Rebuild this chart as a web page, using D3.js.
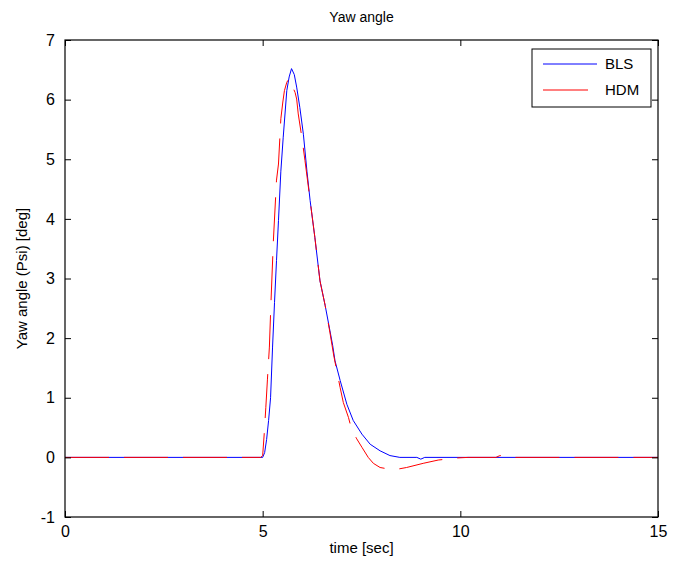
<!DOCTYPE html>
<html><head><meta charset="utf-8">
<script src="https://cdn.jsdelivr.net/npm/d3@7"></script>
<style>body{margin:0;background:#fff}svg{display:block}text{font-family:"Liberation Sans",Arial,sans-serif;fill:#000}</style>
</head><body>
<svg id="c" width="673" height="563"></svg>
<script>
const xTicks = [0, 5, 10, 15];
const yTicks = [-1, 0, 1, 2, 3, 4, 5, 6, 7];
const blsT = [0, 5.0, 5.05, 5.1, 5.15, 5.2, 5.25, 5.3, 5.35, 5.4, 5.46, 5.52, 5.61, 5.67, 5.73, 5.8, 5.86, 5.94, 6.03, 6.12, 6.2, 6.32, 6.45, 6.58, 6.7, 6.77, 6.83, 6.96, 7.13, 7.29, 7.51, 7.72, 7.97, 8.22, 8.47, 8.9, 9.0, 9.1, 15];
const blsV = [0, 0, 0.08, 0.3, 0.62, 1.0, 1.85, 2.6, 3.3, 3.97, 4.8, 5.37, 6.15, 6.38, 6.52, 6.42, 6.21, 5.87, 5.42, 4.8, 4.31, 3.69, 2.96, 2.55, 2.13, 1.88, 1.62, 1.29, 0.89, 0.62, 0.39, 0.22, 0.11, 0.03, 0, 0, -0.03, 0, 0];
const hdmT = [0, 4.95, 5.0, 5.04, 5.08, 5.12, 5.17, 5.21, 5.27, 5.35, 5.4, 5.46, 5.51, 5.55, 5.61, 5.67, 5.73, 5.82, 5.86, 5.9, 5.99, 6.07, 6.2, 6.32, 6.45, 6.58, 6.7, 6.8, 6.96, 7.04, 7.17, 7.25, 7.38, 7.51, 7.67, 7.8, 7.97, 8.31, 8.64, 9.06, 9.44, 9.91, 10.2, 10.9, 11.0, 11.25, 11.35, 15];
const hdmV = [0, 0, 0.03, 0.4, 0.84, 1.3, 1.85, 2.6, 3.62, 4.65, 4.92, 5.68, 5.96, 6.15, 6.29, 6.36, 6.26, 6.12, 6.01, 5.76, 5.37, 4.98, 4.31, 3.69, 2.96, 2.55, 2.1, 1.7, 1.17, 0.92, 0.67, 0.47, 0.31, 0.17, 0, -0.1, -0.17, -0.21, -0.17, -0.1, -0.045, -0.01, 0, 0, 0.03, 0.03, 0, 0];
const seriesNames = ["BLS", "HDM"];
const seriesColors = ["#0000ff", "#ff0000"];

const svg = d3.select("#c");
const L = 65, R = 658, T = 40, B = 517;
const x = d3.scaleLinear().domain([0, 15]).range([L, R]);
const y = d3.scaleLinear().domain([-1, 7]).range([B, T]);

const line = d3.line().x(d => x(d[0])).y(d => y(d[1]));
const bls = blsT.map((t, i) => [t, blsV[i]]);
const hdm = hdmT.map((t, i) => [t, hdmV[i]]);
const g = svg.append("g");
g.append("path").attr("d", line(bls)).attr("fill", "none").attr("stroke", seriesColors[0]).attr("stroke-width", 1);
g.append("path").attr("d", line(hdm)).attr("fill", "none").attr("stroke", seriesColors[1]).attr("stroke-width", 1).attr("stroke-dasharray", "44,15");

const ax = (gen, tr) => svg.append("g").attr("transform", tr).call(gen);
const fs = "16px";
const fmt = d => String(d);
const xb = ax(d3.axisBottom(x).tickValues(xTicks).tickSize(-6).tickPadding(9).tickFormat(fmt), `translate(0,${B})`);
const xt = ax(d3.axisTop(x).tickValues(xTicks).tickSize(-6).tickFormat(""), `translate(0,${T})`);
const yl = ax(d3.axisLeft(y).tickValues(yTicks).tickSize(-6).tickPadding(10).tickFormat(fmt), `translate(${L},0)`);
const yr = ax(d3.axisRight(y).tickValues(yTicks).tickSize(-6).tickFormat(""), `translate(${R},0)`);
[xb, xt, yl, yr].forEach(a => {
  a.selectAll(".tick line").attr("stroke", "#000");
  a.selectAll("text").style("font-size", fs).style("font-family", "Liberation Sans, Arial, sans-serif").attr("fill", "#000");
});
svg.selectAll(".domain").remove();
svg.append("rect").attr("x", L).attr("y", T).attr("width", R - L).attr("height", B - T).attr("fill", "none").attr("stroke", "#000").attr("stroke-width", 1.2);

svg.append("text").attr("x", (L + R) / 2).attr("y", 22).attr("text-anchor", "middle").style("font-size", "14px").text("Yaw angle");
svg.append("text").attr("x", (L + R) / 2).attr("y", 553).attr("text-anchor", "middle").style("font-size", "15px").text("time [sec]");
svg.append("text").attr("transform", `translate(27,${(T + B) / 2}) rotate(-90)`).attr("text-anchor", "middle").style("font-size", "15px").text("Yaw angle (Psi) [deg]");

const lg = svg.append("g");
lg.append("rect").attr("x", 532).attr("y", 49).attr("width", 119).attr("height", 58).attr("fill", "#fff").attr("stroke", "#000").attr("stroke-width", 1);
const ly = [64, 90];
const lx2 = [597, 588];
seriesNames.forEach((n, i) => {
  lg.append("line").attr("x1", 543).attr("x2", lx2[i]).attr("y1", ly[i]).attr("y2", ly[i]).attr("stroke", seriesColors[i]).attr("stroke-width", 1);
  lg.append("text").attr("x", 605).attr("y", ly[i] + 5).style("font-size", "15px").text(n);
});
</script>
</body></html>
